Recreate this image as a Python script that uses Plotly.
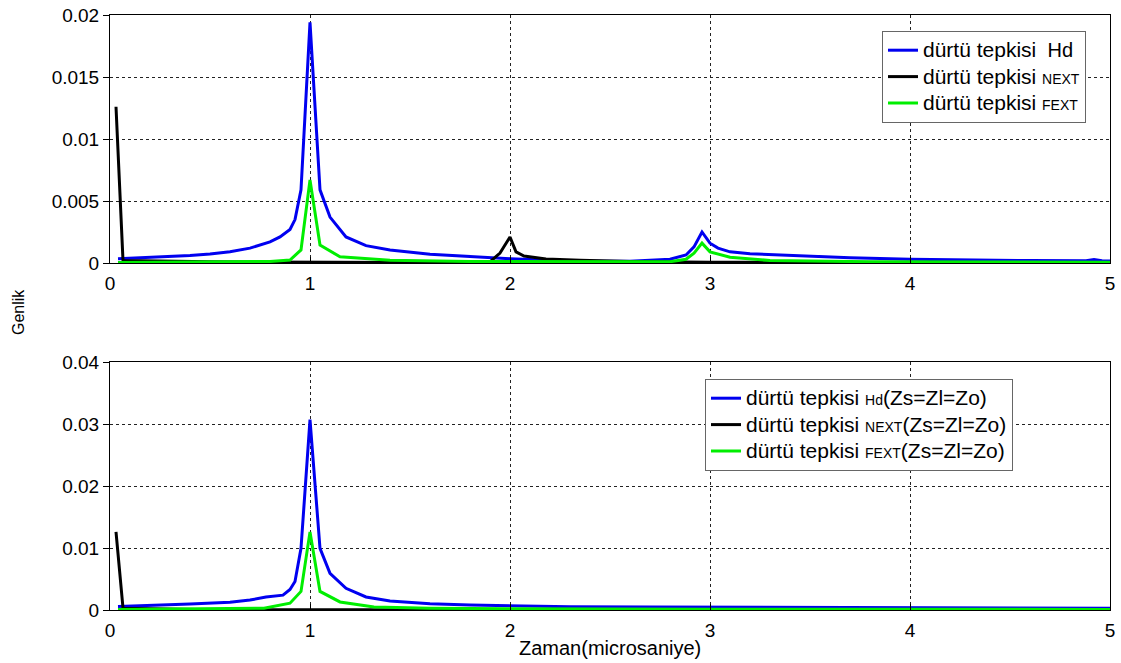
import plotly.graph_objects as go

# --- Dürtü tepkisi (üst grafik) ---
hd_x = [0.04, 0.2, 0.4, 0.5, 0.6, 0.7, 0.8, 0.85, 0.9, 0.925, 0.955, 1.0, 1.05, 1.1, 1.18, 1.28,
        1.4, 1.6, 1.8, 2.0, 2.2, 2.4, 2.6, 2.8, 2.88, 2.92, 2.96, 3.0, 3.04, 3.1, 3.2, 3.4,
        3.7, 4.0, 4.3, 4.6, 4.88, 4.92, 4.96, 5.0]
hd_y = [0.00035, 0.00045, 0.0006, 0.00073, 0.0009, 0.0012, 0.0017, 0.0021, 0.0027, 0.0035,
        0.0059, 0.0194, 0.0059, 0.0037, 0.0021, 0.0014, 0.00105, 0.0007, 0.0005, 0.00035,
        0.00022, 0.00015, 0.00015, 0.0003, 0.00065, 0.0013, 0.0025, 0.0016, 0.0012, 0.0009,
        0.00075, 0.00062, 0.00042, 0.0003, 0.00024, 0.0002, 0.00019, 0.00028, 0.00018, 0.00016]

next_x = [0.03, 0.065, 0.5, 1.0, 1.5, 1.9, 1.95, 2.0, 2.03, 2.07, 2.18, 2.35, 2.6, 3.0, 4.0, 5.0]
next_y = [0.0126, 0.0002, 0.0001, 0.00005, 0.00005, 0.0001, 0.0008, 0.0021, 0.0009, 0.00056,
          0.00033, 0.00022, 0.00012, 0.00006, 0.00004, 0.00003]

fext_x = [0.04, 0.5, 0.8, 0.9, 0.955, 1.0, 1.05, 1.15, 1.4, 1.8, 2.4, 2.8, 2.88, 2.92, 2.96,
          3.0, 3.1, 3.3, 3.8, 4.5, 5.0]
fext_y = [0.00005, 0.00008, 0.00012, 0.00024, 0.00105, 0.0067, 0.00145, 0.0005, 0.00022,
          0.00012, 0.00008, 0.0001, 0.0003, 0.0008, 0.0016, 0.0009, 0.00046, 0.0002, 0.0001,
          0.00008, 0.00006]

# --- Zs=Zl=Zo durumu (alt grafik) ---
hd_zo_x = [0.04, 0.2, 0.4, 0.6, 0.7, 0.78, 0.865, 0.9, 0.925, 0.955, 1.0, 1.05, 1.1, 1.18,
           1.28, 1.4, 1.6, 1.8, 2.0, 2.3, 2.7, 3.2, 4.0, 5.0]
hd_zo_y = [0.00055, 0.0007, 0.00097, 0.00124, 0.0016, 0.0021, 0.0024, 0.0033, 0.0046, 0.00995,
           0.0307, 0.00995, 0.0059, 0.0035, 0.0021, 0.00145, 0.001, 0.0008, 0.0007, 0.00053,
           0.00048, 0.00043, 0.00035, 0.0003]

next_zo_x = [0.03, 0.065, 0.5, 1.0, 2.0, 3.0, 4.0, 5.0]
next_zo_y = [0.0126, 0.0003, 0.00005, 0.00003, 0.00002, 0.00002, 0.00002, 0.00002]

fext_zo_x = [0.04, 0.5, 0.77, 0.9, 0.955, 1.0, 1.05, 1.15, 1.32, 1.6, 2.0, 3.0, 4.0, 5.0]
fext_zo_y = [0.0001, 0.0002, 0.0003, 0.0011, 0.003, 0.0126, 0.003, 0.0013, 0.0005, 0.0003,
             0.0002, 0.00012, 0.0001, 0.0001]

x_ticks = [0, 1, 2, 3, 4, 5]
y_ticks_top = [0, 0.005, 0.01, 0.015, 0.02]
y_ticks_bottom = [0, 0.01, 0.02, 0.03, 0.04]

BLUE = "#0000f0"
BLACK = "#000000"
GREEN = "#00ee00"
FONT = "Liberation Sans, Arial, sans-serif"
W, H = 1121, 663

fig = go.Figure()

def span(t, size):
    return f'<span style="font-size:{size}px">{t}</span>'

LABEL = span("dürtü tepkisi ", 21)

top = [
    (hd_x, hd_y, BLUE, LABEL + span(" Hd", 20)),
    (next_x, next_y, BLACK, LABEL + span("NEXT", 14)),
    (fext_x, fext_y, GREEN, LABEL + span("FEXT", 14)),
]
for xs, ys, c, name in top:
    fig.add_trace(go.Scatter(x=xs, y=ys, mode="lines", name=name,
                             line=dict(color=c, width=3), xaxis="x", yaxis="y",
                             legend="legend"))

ZO = span("(Zs=Zl=Zo)", 21)
bottom = [
    (hd_zo_x, hd_zo_y, BLUE, LABEL + span("Hd", 14) + ZO),
    (next_zo_x, next_zo_y, BLACK, LABEL + span("NEXT", 14) + ZO),
    (fext_zo_x, fext_zo_y, GREEN, LABEL + span("FEXT", 14) + ZO),
]
for xs, ys, c, name in bottom:
    fig.add_trace(go.Scatter(x=xs, y=ys, mode="lines", name=name,
                             line=dict(color=c, width=3), xaxis="x2", yaxis="y2",
                             legend="legend2"))

x_dom = [110 / W, 1110 / W]
top_dom = [(H - 263) / H, (H - 15) / H]
bot_dom = [(H - 610) / H, (H - 362) / H]

common_x = dict(range=[0, 5], tickvals=x_ticks, showline=True, linecolor="black", linewidth=1,
                mirror=True, ticks="inside", ticklen=6, tickcolor="black",
                showgrid=True, gridcolor="#222222", gridwidth=1, griddash="3px,3px",
                zeroline=False, tickfont=dict(size=19, color="black", family=FONT),
                domain=x_dom, ticklabelstandoff=3, automargin=False)
common_y = dict(showline=True, linecolor="black", linewidth=1, mirror=True,
                ticks="outside", ticklen=6, tickcolor="black",
                showgrid=True, gridcolor="#222222", gridwidth=1, griddash="3px,3px",
                zeroline=False, tickfont=dict(size=19, color="black", family=FONT),
                automargin=False)

legend_style = dict(bgcolor="white", bordercolor="#666666", borderwidth=1,
                    font=dict(size=18, color="black", family=FONT),
                    xanchor="left", yanchor="top", tracegroupgap=0, itemwidth=30)

fig.update_layout(
    width=W, height=H,
    margin=dict(l=0, r=0, t=0, b=0, autoexpand=False),
    paper_bgcolor="white", plot_bgcolor="white",
    font=dict(family=FONT, color="black"),
    xaxis=dict(common_x, anchor="y"),
    yaxis=dict(common_y, range=[0, 0.02], tickvals=y_ticks_top, domain=top_dom, anchor="x"),
    xaxis2=dict(common_x, anchor="y2"),
    yaxis2=dict(common_y, range=[0, 0.04], tickvals=y_ticks_bottom, domain=bot_dom, anchor="x2"),
    legend=dict(legend_style, x=882 / W, y=1 - 31 / H),
    legend2=dict(legend_style, x=705 / W, y=1 - 379 / H),
    annotations=[
        dict(text="Genlik", x=18 / W, y=1 - 312 / H, xref="paper", yref="paper",
             xanchor="center", yanchor="middle",
             textangle=-90, showarrow=False, font=dict(size=16, family=FONT, color="black")),
        dict(text="Zaman(microsaniye)", x=610 / W, y=1 - 648 / H, xref="paper", yref="paper",
             xanchor="center", yanchor="middle",
             showarrow=False, font=dict(size=20, family=FONT, color="black")),
    ],
)

fig.write_html("out.html")
